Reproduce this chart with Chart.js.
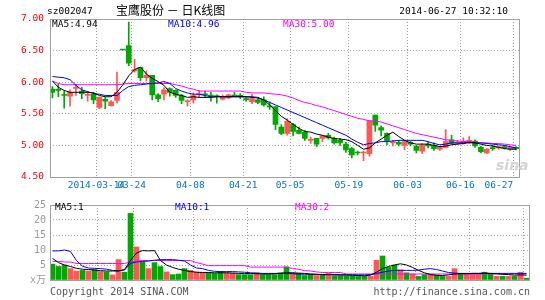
<!DOCTYPE html>
<html>
<head>
<meta charset="utf-8">
<script src="https://cdn.jsdelivr.net/npm/chart.js@4.4.1/dist/chart.umd.min.js"></script>
<style>
  body { margin: 0; background: #fff; }
  #wrap { position: relative; width: 545px; height: 300px; overflow: hidden; font-family: 'DejaVu Sans Mono', monospace; font-size: 9.5px; }
  .t { position: absolute; white-space: pre; line-height: 10px; }
  canvas { position: absolute; left: 0; }
</style>
</head>
<body>
<div id="wrap">
  <canvas id="price" width="545" height="195" style="top:0"></canvas>
  <canvas id="vol" width="545" height="95" style="top:195px"></canvas>
  <div class="t" style="left:47px;top:6px">sz002047</div>
  <div class="t" style="left:116px;top:3px;font-family:'Noto Sans CJK SC';font-size:12px;line-height:13px">宝鹰股份 － 日K线图</div>
  <div class="t" style="right:37px;top:6px">2014-06-27 10:32:10</div>
  <div class="t" style="left:52px;top:19px;color:#000">MA5:4.94</div>
  <div class="t" style="left:168px;top:19px;color:#0000ff">MA10:4.96</div>
  <div class="t" style="left:283px;top:19px;color:#ff00ff">MA30:5.00</div>
  <div class="t" style="left:55px;top:202px;color:#000">MA5:1</div>
  <div class="t" style="left:175px;top:202px;color:#0000ff">MA10:1</div>
  <div class="t" style="left:295px;top:202px;color:#ff00ff">MA30:2</div>
  <div class="t" style="left:496px;top:158px;font-family:'DejaVu Sans';font-weight:bold;font-style:italic;font-size:14px;line-height:14px;color:#d4d4d4">sina</div>
  <div class="t" style="left:50px;top:287px;font-size:10px;color:#555">Copyright 2014 SINA.COM</div>
  <div class="t" style="right:15px;top:287px;font-size:10px;color:#555">http://finance.sina.com.cn</div>
</div>
<script>
// trading days shown in the chart
const dates = [
  '2014-03-04','2014-03-05','2014-03-06','2014-03-07','2014-03-10','2014-03-11','2014-03-12','2014-03-13','2014-03-14','2014-03-17',
  '2014-03-18','2014-03-19','2014-03-20','2014-03-21','2014-03-24','2014-03-25','2014-03-26','2014-03-27','2014-03-28','2014-03-31',
  '2014-04-01','2014-04-02','2014-04-03','2014-04-04','2014-04-08','2014-04-09','2014-04-10','2014-04-11','2014-04-14','2014-04-15',
  '2014-04-16','2014-04-17','2014-04-18','2014-04-21','2014-04-22','2014-04-23','2014-04-24','2014-04-25','2014-04-28','2014-04-29',
  '2014-04-30','2014-05-05','2014-05-06','2014-05-07','2014-05-08','2014-05-09','2014-05-12','2014-05-13','2014-05-14','2014-05-15',
  '2014-05-16','2014-05-19','2014-05-20','2014-05-21','2014-05-22','2014-05-23','2014-05-26','2014-05-27','2014-05-28','2014-05-29',
  '2014-05-30','2014-06-03','2014-06-04','2014-06-05','2014-06-06','2014-06-09','2014-06-10','2014-06-11','2014-06-12','2014-06-13',
  '2014-06-16','2014-06-17','2014-06-18','2014-06-19','2014-06-20','2014-06-23','2014-06-24','2014-06-25','2014-06-26','2014-06-27'
];
const tickDates = ['2014-03-14','2014-03-24','2014-04-08','2014-04-21','2014-05-05','2014-05-19','2014-06-03','2014-06-16','2014-06-27'];

const opens = [5.89,5.88,5.80,5.78,5.90,5.86,5.79,5.81,5.60,5.73, 5.63,5.71,6.51,6.58,6.18,6.23,6.07,6.11,5.80,5.81,
  5.90,5.87,5.79,5.69,5.72,5.80,5.81,5.79,5.79,5.73, 5.75,5.79,5.78,5.74,5.69,5.72,5.72,5.62,5.61,5.29,
  5.19,5.33,5.24,5.21,5.08,5.11,5.11,5.16,5.11,5.08, 5.02,4.95,4.89,4.88,4.87,5.48,5.28,5.19,5.04,5.05,
  5.00,5.05,4.99,4.91,5.02,5.00,4.94,4.97,5.09,5.03, 5.03,5.05,5.07,4.97,4.88,4.96,4.96,4.98,4.94,4.97];
const highs = [5.93,5.97,5.86,5.88,5.97,5.92,5.85,5.84,5.77,5.76, 5.71,6.16,6.51,6.95,6.36,6.23,6.18,6.11,5.82,5.91,
  5.91,5.88,5.81,5.72,5.83,5.87,5.86,5.84,5.80,5.80, 5.81,5.84,5.82,5.76,5.81,5.74,5.77,5.69,5.62,5.33,
  5.42,5.35,5.29,5.24,5.13,5.11,5.16,5.19,5.13,5.11, 5.05,4.97,4.91,4.91,5.39,5.48,5.31,5.20,5.08,5.08,
  5.08,5.07,5.00,5.03,5.05,5.04,4.98,5.25,5.16,5.08, 5.12,5.14,5.09,4.99,4.95,5.00,4.99,5.00,4.98,4.98];
const lows = [5.75,5.77,5.59,5.62,5.79,5.74,5.70,5.66,5.58,5.58, 5.62,5.67,6.51,6.26,6.16,6.02,6.02,5.72,5.69,5.72,
  5.78,5.76,5.66,5.62,5.67,5.76,5.76,5.70,5.67,5.72, 5.74,5.77,5.74,5.70,5.66,5.66,5.62,5.57,5.25,5.17,
  5.16,5.15,5.18,5.08,5.03,4.98,5.06,5.10,5.02,5.00, 4.89,4.80,4.85,4.76,4.83,5.22,5.15,5.01,4.99,4.99,
  4.93,4.99,4.88,4.87,4.96,4.92,4.92,4.96,5.02,5.01, 5.02,5.03,4.97,4.88,4.87,4.92,4.94,4.94,4.92,4.93];
const closes = [5.84,5.87,5.79,5.84,5.92,5.82,5.81,5.72,5.76,5.70, 5.69,5.84,6.51,6.30,6.20,6.07,6.11,5.80,5.74,5.88,
  5.84,5.79,5.71,5.70,5.79,5.81,5.80,5.78,5.77,5.77, 5.80,5.78,5.775,5.72,5.74,5.68,5.64,5.61,5.33,5.19,
  5.38,5.22,5.19,5.11,5.09,5.02,5.15,5.12,5.04,5.04, 4.93,4.85,4.88,4.89,5.39,5.32,5.24,5.07,5.05,5.02,
  5.06,5.02,4.92,5.00,4.99,4.95,4.97,5.06,5.03,5.04, 5.07,5.08,4.99,4.90,4.94,4.95,4.97,4.96,4.97,4.95];

const ma5 = [6.02,5.92,5.87,5.84,5.84,5.84,5.84,5.83,5.79,5.77, 5.77,5.84,5.96,6.10,6.20,6.24,6.13,6.06,6.01,5.95,
  5.84,5.81,5.79,5.76,5.77,5.76,5.76,5.76,5.77,5.77, 5.77,5.77,5.77,5.77,5.76,5.75,5.72,5.64,5.55,5.46,
  5.40,5.33,5.27,5.22,5.21,5.18,5.16,5.13,5.11,5.10, 5.09,5.06,5.00,4.94,4.96,5.04,5.10,5.16,5.21,5.14,
  5.08,5.04,5.02,5.02,5.02,5.00,4.98,4.99,5.01,5.02, 5.03,5.05,5.04,5.02,5.00,4.99,4.97,4.95,4.94,4.94];
const ma10 = [6.09,6.08,6.07,6.04,5.95,5.88,5.85,5.82,5.81,5.79, 5.79,5.79,5.87,5.93,5.95,5.96,5.97,5.98,5.99,6.01,
  5.98,5.90,5.86,5.83,5.81,5.81,5.79,5.77,5.77,5.77, 5.77,5.77,5.77,5.77,5.77,5.76,5.72,5.68,5.64,5.60,
  5.56,5.52,5.48,5.44,5.40,5.36,5.32,5.28,5.24,5.20, 5.16,5.10,5.05,5.01,5.03,5.04,5.06,5.06,5.07,5.08,
  5.08,5.08,5.08,5.08,5.06,5.03,5.01,5.02,5.04,5.04, 5.04,5.04,5.04,5.04,5.03,5.02,5.01,5.00,4.98,4.96];
const ma30 = [6.02,5.98,5.96,5.96,5.96,5.96,5.96,5.96,5.96,5.96, 5.96,5.96,5.97,5.98,5.98,5.98,5.98,5.98,5.98,5.98,
  5.98,5.96,5.94,5.91,5.89,5.86,5.86,5.86,5.86,5.86, 5.86,5.86,5.86,5.84,5.83,5.83,5.83,5.82,5.81,5.80,
  5.78,5.75,5.71,5.68,5.66,5.63,5.61,5.58,5.55,5.52, 5.49,5.46,5.43,5.41,5.39,5.38,5.37,5.34,5.31,5.28,
  5.25,5.22,5.19,5.17,5.15,5.13,5.11,5.09,5.08,5.07, 5.06,5.06,5.05,5.04,5.04,5.03,5.03,5.02,5.01,5.00];

// volume in 10k lots (x万)
const volumes = [5.3,4.5,5.0,3.8,3.0,3.2,3.0,3.5,2.8,2.7, 1.7,6.8,2.6,22.2,11.0,6.0,3.8,5.8,4.5,2.7,
  1.8,2.0,3.8,3.2,2.6,2.6,2.4,2.2,2.9,2.4, 2.3,1.8,1.8,1.8,2.4,1.8,1.8,1.8,2.4,4.4,
  2.4,2.2,1.5,1.8,1.5,1.6,2.2,1.4,1.4,1.4, 1.4,1.2,1.2,1.2,6.6,8.0,4.2,5.0,3.4,2.4,
  2.0,1.2,1.8,2.0,1.6,1.2,1.2,3.8,2.2,2.0, 2.0,2.0,2.6,2.0,1.2,1.2,1.2,1.2,2.6,0.6];
const volMa5 = [7.2,5.8,5.0,4.5,3.9,3.6,3.5,3.3,3.1,3.0, 3.0,3.0,3.5,6.5,9.0,9.8,9.7,9.8,6.5,5.0,
  4.2,3.6,3.2,2.8,2.6,2.5,2.5,2.4,2.4,2.4, 2.3,2.2,2.2,2.2,2.1,2.0,2.0,2.1,2.2,2.4,
  2.4,2.3,2.2,2.0,1.9,1.8,1.8,1.8,1.7,1.7, 1.6,1.5,1.4,1.6,2.6,3.8,4.5,5.0,5.4,5.0,
  4.2,3.2,2.4,1.8,1.6,1.5,1.7,2.0,2.1,2.1, 2.2,2.2,2.3,2.2,2.1,1.9,1.8,1.6,1.7,1.6];
const volMa10 = [9.7,9.7,10.0,9.5,6.5,4.6,4.0,3.9,3.8,3.6, 3.2,3.1,3.3,5.5,6.0,6.2,6.3,6.6,6.8,6.8,
  6.8,6.6,6.3,5.0,4.0,3.8,3.2,2.9,2.8,2.8, 2.8,2.7,2.6,2.4,2.3,2.2,2.2,2.2,2.2,2.3,
  2.1,2.0,1.9,1.9,1.9,1.8,1.8,1.7,1.7,1.7, 1.7,1.7,1.7,1.8,2.2,2.6,3.0,3.2,3.2,3.2,
  3.2,3.3,3.6,3.8,3.5,3.0,2.5,2.3,2.2,2.2, 2.2,2.2,2.2,2.2,2.2,2.2,2.2,2.2,2.2,2.2];
const volMa30 = [6.2,6.2,6.0,6.0,5.5,5.5,5.5,5.5,5.5,5.5, 5.5,5.5,5.5,6.0,6.3,6.5,6.5,6.5,6.5,6.5,
  6.5,6.5,6.5,6.5,5.8,5.3,4.8,4.8,4.8,4.8, 4.8,4.8,4.8,4.3,4.3,4.3,4.3,4.3,4.3,4.3,
  3.8,3.6,3.1,3.0,2.7,2.5,2.5,2.5,2.5,2.0, 2.0,2.0,2.0,2.0,2.0,2.0,2.0,2.0,2.0,2.0,
  2.0,2.0,2.0,2.0,2.0,2.0,2.0,2.0,2.0,2.0, 2.0,2.0,2.0,2.0,2.0,2.0,2.0,2.0,2.0,2.0];

const priceTicks = [4.5, 5.0, 5.5, 6.0, 6.5, 7.0];
const volTicks = [0, 5, 10, 15, 20, 25];

const UP = '#ff5656', DOWN = '#00a800', GRID = '#a8a8a8', FRAME = '#a0a0a0';
const FONT = "'DejaVu Sans Mono', 'Noto Sans CJK SC', monospace";

Chart.defaults.font.family = FONT;
Chart.defaults.font.size = 9.5;
Chart.defaults.animation = false;
Chart.defaults.plugins.legend.display = false;
Chart.defaults.plugins.tooltip.enabled = false;

const candleColors = closes.map((c, i) => c > opens[i] ? UP : DOWN);
const tickIdx = tickDates.map(d => dates.indexOf(d));
const pts = arr => arr.map((v, i) => ({ x: i, y: v }));

// dotted date lines under the marks, gray frame on top
const frame = {
    id: 'frame',
    beforeDatasetsDraw(chart) {
        const a = chart.chartArea, ctx = chart.ctx, xs = chart.scales.x;
        ctx.save();
        ctx.strokeStyle = '#999999';
        ctx.lineWidth = 1;
        ctx.setLineDash([1, 2]);
        xs.ticks.forEach(t => {
            const px = Math.floor(xs.getPixelForValue(t.value)) + 0.5;
            ctx.beginPath();
            ctx.moveTo(px, a.top);
            ctx.lineTo(px, a.bottom);
            ctx.stroke();
        });
        ctx.restore();
    },
    afterDraw(chart) {
        const a = chart.chartArea, ctx = chart.ctx;
        ctx.save();
        ctx.strokeStyle = FRAME;
        ctx.lineWidth = 1;
        ctx.strokeRect(Math.round(a.left) + 0.5, Math.round(a.top) + 0.5,
            Math.round(a.right - a.left) - 1, Math.round(a.bottom - a.top));
        ctx.restore();
    }
};

function xAxis(showLabels) {
    return {
        type: 'linear',
        offset: false,
        min: -2.5 / 6,
        max: 80 - 2.5 / 6,
        afterBuildTicks: s => { s.ticks = tickIdx.map(i => ({ value: i - 0.5 })); },
        afterFit: s => { s.height = showLabels ? 18 : 0; },
        grid: { color: 'rgba(0,0,0,0)', drawTicks: false, offset: false },
        border: { display: false, dash: [1, 2] },
        ticks: {
            display: showLabels,
            autoSkip: false,
            maxRotation: 0,
            padding: 3,
            color: '#0a72c6',
            callback: (v, k) => {
                const d = dates[Math.round(v + 0.5)];
                if (k === 0) return d;
                if (k === tickIdx.length - 1) return d.slice(5) + '     ';
                return d.slice(5);
            }
        }
    };
}

function lineSet(data, color) {
    return { type: 'line', data: pts(data), borderColor: color, borderWidth: 1,
        pointRadius: 0, tension: 0, fill: false, order: 1 };
}

new Chart(document.getElementById('price'), {
    type: 'bar',
    data: {
        datasets: [
            { data: lows.map((l, i) => ({ x: i, y: [l, highs[i]] })), backgroundColor: candleColors,
              grouped: false, barPercentage: 1, categoryPercentage: 1, maxBarThickness: 1, order: 3 },
            { data: opens.map((o, i) => ({ x: i, y: [o, closes[i]] })), backgroundColor: candleColors,
              grouped: false, barPercentage: 1, categoryPercentage: 1, maxBarThickness: 5, minBarLength: 1, order: 2 },
            lineSet(ma5, '#000000'),
            lineSet(ma10, '#0000ff'),
            lineSet(ma30, '#ff00ff')
        ]
    },
    options: {
        responsive: false,
        devicePixelRatio: 1,
        layout: { padding: { top: 19, right: 15, left: 0, bottom: 0 } },
        scales: {
            x: xAxis(true),
            y: {
                min: 4.5, max: 7,
                afterBuildTicks: s => { s.ticks = priceTicks.map(v => ({ value: v })); },
                afterFit: s => { s.width = 50; },
                grid: { color: GRID, drawTicks: false },
                border: { display: false, dash: [1, 2] },
                ticks: { color: '#ff0000', padding: 6, callback: v => v.toFixed(2) }
            }
        }
    },
    plugins: [frame]
});

new Chart(document.getElementById('vol'), {
    type: 'bar',
    data: {
        datasets: [
            { data: volumes.map((v, i) => ({ x: i, y: v })), backgroundColor: candleColors,
              grouped: false, barPercentage: 1, categoryPercentage: 1, maxBarThickness: 5, order: 2 },
            lineSet(volMa5, '#000000'),
            lineSet(volMa10, '#0000ff'),
            lineSet(volMa30, '#ff00ff')
        ]
    },
    options: {
        responsive: false,
        devicePixelRatio: 1,
        layout: { padding: { top: 6, right: 15, left: 0, bottom: 4 } },
        scales: {
            x: xAxis(false),
            y: {
                min: 0, max: 25,
                afterBuildTicks: s => { s.ticks = volTicks.map(v => ({ value: v })); },
                afterFit: s => { s.width = 50; },
                grid: { color: GRID, drawTicks: false },
                border: { display: false, dash: [1, 2] },
                ticks: { color: '#9a9a9a', padding: 4, font: { size: 10 },
                    callback: v => v === 0 ? 'x万' : String(v) }
            }
        }
    },
    plugins: [frame]
});
</script>
</body>
</html>
